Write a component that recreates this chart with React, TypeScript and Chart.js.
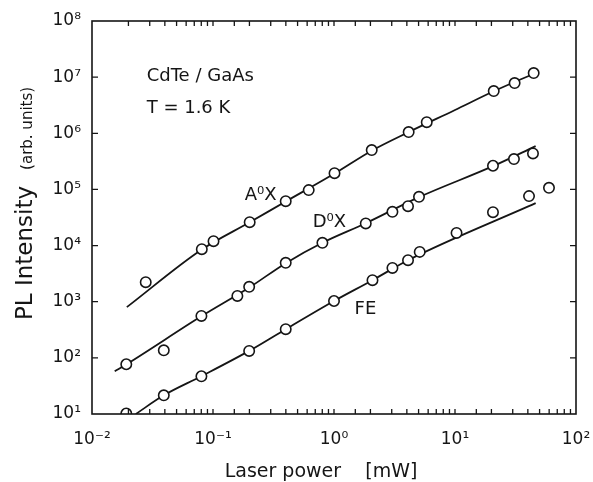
import React, { useEffect, useRef } from 'react';
import { Chart, registerables } from 'chart.js';

Chart.register(...registerables);

// ---------- data ----------
const A0X_POWER = [0.0278, 0.0808, 0.101, 0.201, 0.399, 0.618, 1.01, 2.05, 4.14, 5.84, 20.9, 31.1, 44.7];
const A0X_INTENSITY = [2230, 8630, 11970, 26100, 61800, 97200, 195000, 502000, 1.05e6, 1.58e6, 5.65e6, 7.85e6, 1.18e7];

const D0X_POWER = [0.0192, 0.0392, 0.0802, 0.159, 0.199, 0.399, 0.802, 1.83, 3.04, 4.09, 5.04, 20.6, 30.7, 44.1];
const D0X_INTENSITY = [76.9, 136, 558, 1270, 1840, 4920, 11200, 24800, 39900, 50400, 73800, 264000, 347000, 438000];

const FE_POWER = [0.0192, 0.0392, 0.0802, 0.199, 0.399, 1.0, 2.08, 3.04, 4.09, 5.11, 10.3, 20.6, 40.9, 59.8];
const FE_INTENSITY = [10.2, 21.5, 47.0, 133, 324, 1030, 2420, 4000, 5490, 7720, 16800, 39400, 76000, 107000];

// fitted curves drawn through the data
const A0X_FIT_POWER = [0.0194, 0.0808, 0.201, 0.399, 1.01, 2.05, 4.14, 10, 20.9, 44.7];
const A0X_FIT_INTENSITY = [800, 8500, 26000, 61000, 192000, 490000, 1.05e6, 2.6e6, 5.6e6, 1.15e7];

const D0X_FIT_POWER = [0.0154, 0.0193, 0.080, 0.201, 0.399, 0.802, 1.83, 5.04, 20.6, 46.4];
const D0X_FIT_INTENSITY = [57.7, 77, 550, 1810, 4860, 11200, 25000, 72900, 260000, 592000];

const FE_FIT_POWER = [0.0230, 0.0392, 0.080, 0.199, 0.399, 1.0, 2.08, 4.09, 46.4];
const FE_FIT_INTENSITY = [10, 21.5, 47, 133, 324, 1030, 2420, 5490, 57000];

// axis ranges
const X_RANGE = [0.01, 100];
const Y_RANGE = [10, 1e8];

// text labels in the plot (anchored in data coordinates)
const LABEL_TEXTS = ['CdTe / GaAs', 'T = 1.6 K', 'A⁰X', 'D⁰X', 'FE'];
const LABEL_POWER = [0.0283, 0.0283, 0.183, 0.667, 1.48];
const LABEL_INTENSITY = [1.05e7, 2.81e6, 79000, 26100, 735];

const X_TITLE = 'Laser power    [mW]';
const Y_TITLE_MAIN = 'PL Intensity';
const Y_TITLE_UNIT = '(arb. units)';

// ---------- styling ----------
const FONT = '"DejaVu Sans", "Liberation Sans", sans-serif';
const INK = '#151515';

const SUP: Record<string, string> = {
  '-': '⁻', '0': '⁰', '1': '¹', '2': '²', '3': '³', '4': '⁴',
  '5': '⁵', '6': '⁶', '7': '⁷', '8': '⁸', '9': '⁹',
};

const isDecade = (v: number) => {
  const e = Math.log10(v);
  return Math.abs(e - Math.round(e)) < 1e-6;
};

const pow10Label = (v: number) => {
  if (!isDecade(v)) return '';
  const r = Math.round(Math.log10(v));
  return '10' + String(r).split('').map((c) => SUP[c]).join('');
};

const toXY = (xs: number[], ys: number[]) => xs.map((x, i) => ({ x, y: ys[i] }));

const pointsDs = (label: string, xs: number[], ys: number[]) => ({
  label,
  data: toXY(xs, ys),
  showLine: false,
  pointStyle: 'circle',
  pointRadius: 5.2,
  pointBorderWidth: 1.6,
  pointBorderColor: INK,
  pointBackgroundColor: '#ffffff',
  order: 0,
  clip: 0,
});

const fitDs = (label: string, xs: number[], ys: number[]) => ({
  label,
  data: toXY(xs, ys),
  showLine: true,
  borderColor: INK,
  borderWidth: 1.8,
  pointRadius: 0,
  fill: false,
  cubicInterpolationMode: 'monotone',
  order: 1,
  clip: 0,
});

const framePlugin = {
  id: 'frameTicks',
  afterDatasetsDraw(chart: any) {
    const { ctx, chartArea, scales } = chart;
    const { left, right, top, bottom } = chartArea;
    const xs = scales.x;
    const ys = scales.y;
    const tl = 5;
    ctx.save();
    ctx.strokeStyle = INK;
    ctx.lineWidth = 1.6;
    ctx.strokeRect(left, top, right - left, bottom - top);
    ctx.lineWidth = 1.3;
    ctx.beginPath();
    xs.ticks.forEach((t: any) => {
      const p = xs.getPixelForValue(t.value);
      if (p <= left + 1 || p >= right - 1) return;
      ctx.moveTo(p, bottom);
      ctx.lineTo(p, bottom - tl);
      ctx.moveTo(p, top);
      ctx.lineTo(p, top + tl);
    });
    ys.ticks.forEach((t: any) => {
      if (!isDecade(t.value)) return;
      const p = ys.getPixelForValue(t.value);
      if (p <= top + 1 || p >= bottom - 1) return;
      ctx.moveTo(left, p);
      ctx.lineTo(left + tl + 1, p);
      ctx.moveTo(right, p);
      ctx.lineTo(right - tl - 1, p);
    });
    ctx.stroke();
    ctx.restore();
  },
  afterDraw(chart: any) {
    const { ctx, chartArea, scales } = chart;
    const xs = scales.x;
    const ys = scales.y;
    ctx.save();
    ctx.fillStyle = INK;

    // in-plot labels
    ctx.font = `18px ${FONT}`;
    ctx.textAlign = 'left';
    ctx.textBaseline = 'middle';
    LABEL_TEXTS.forEach((txt, i) => {
      ctx.fillText(txt, xs.getPixelForValue(LABEL_POWER[i]), ys.getPixelForValue(LABEL_INTENSITY[i]));
    });

    // x title
    ctx.font = `19px ${FONT}`;
    ctx.textAlign = 'center';
    ctx.textBaseline = 'alphabetic';
    const cx = (chartArea.left + chartArea.right) / 2 - 13;
    ctx.fillText(X_TITLE, cx, 477);

    // y title (rotated)
    ctx.translate(32, 320);
    ctx.rotate(-Math.PI / 2);
    ctx.textAlign = 'left';
    ctx.font = `23px ${FONT}`;
    ctx.fillText(Y_TITLE_MAIN, 0, 0);
    const w = ctx.measureText(Y_TITLE_MAIN).width;
    ctx.font = `15px ${FONT}`;
    ctx.fillText(Y_TITLE_UNIT, w + 16, 0);
    ctx.restore();
  },
};

export default function App() {
  const ref = useRef<HTMLCanvasElement | null>(null);

  useEffect(() => {
    if (!ref.current) return;
    const chart = new Chart(ref.current, {
      type: 'scatter',
      data: {
        datasets: [
          fitDs('A⁰X fit', A0X_FIT_POWER, A0X_FIT_INTENSITY),
          fitDs('D⁰X fit', D0X_FIT_POWER, D0X_FIT_INTENSITY),
          fitDs('FE fit', FE_FIT_POWER, FE_FIT_INTENSITY),
          pointsDs('A⁰X', A0X_POWER, A0X_INTENSITY),
          pointsDs('D⁰X', D0X_POWER, D0X_INTENSITY),
          pointsDs('FE', FE_POWER, FE_INTENSITY),
        ] as any,
      },
      options: {
        responsive: false,
        animation: false,
        events: [],
        layout: { padding: { top: 21, right: 17, left: 0, bottom: 0 } },
        plugins: {
          legend: { display: false },
          tooltip: { enabled: false },
        },
        scales: {
          x: {
            type: 'logarithmic',
            min: X_RANGE[0],
            max: X_RANGE[1],
            grid: { display: false, drawTicks: false },
            border: { display: false },
            ticks: {
              autoSkip: false,
              maxRotation: 0,
              minRotation: 0,
              padding: 15,
              color: INK,
              font: { family: FONT, size: 17 },
              callback: (v: any) => pow10Label(Number(v)),
            },
            afterFit: (s: any) => {
              s.height = 68;
              s.paddingLeft = 0;
              s.paddingRight = 0;
            },
          },
          y: {
            type: 'logarithmic',
            min: Y_RANGE[0],
            max: Y_RANGE[1],
            grid: { display: false, drawTicks: false },
            border: { display: false },
            ticks: {
              autoSkip: false,
              padding: 11,
              color: INK,
              font: { family: FONT, size: 17 },
              callback: (v: any) => pow10Label(Number(v)),
            },
            afterFit: (s: any) => {
              s.width = 92;
              s.paddingTop = 0;
              s.paddingBottom = 0;
            },
          },
        },
      } as any,
      plugins: [framePlugin],
    });
    return () => chart.destroy();
  }, []);

  return (
    <div style={{ position: 'fixed', left: 0, top: 0, width: 593, height: 482, background: '#fff' }}>
      <canvas ref={ref} width={593} height={482} style={{ width: 593, height: 482, display: 'block' }} />
    </div>
  );
}
